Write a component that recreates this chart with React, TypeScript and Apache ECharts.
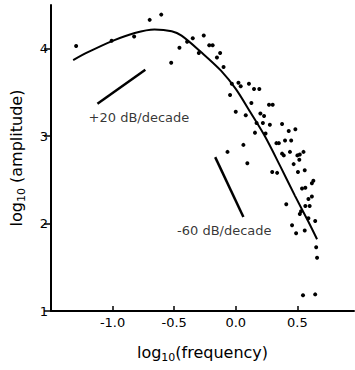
import React, { useEffect, useRef } from "react";
import * as echarts from "echarts";

const curveX = [-1.32, -1.2, -1.0, -0.82, -0.66, -0.52, -0.44, -0.28, -0.12, 0.0, 0.12, 0.24, 0.36, 0.48, 0.59, 0.66];
const curveY = [3.87, 3.96, 4.09, 4.18, 4.22, 4.2, 4.15, 3.96, 3.75, 3.54, 3.27, 2.99, 2.66, 2.32, 2.02, 1.82];

const scatterX = [-1.296, -1.008, -0.825, -0.699, -0.605, -0.457, -0.524, -0.395, -0.349, -0.26, -0.215, -0.188, -0.3, -0.153, -0.127, -0.099, -0.032, 0.022, 0.04, 0.107, -0.046, 0.148, 0.191, 0.127, 0.27, 0.3, 0.0, 0.081, 0.2, 0.23, 0.169, 0.22, 0.277, 0.376, 0.156, 0.242, 0.43, 0.484, 0.062, 0.33, 0.35, 0.4, 0.45, 0.376, 0.39, 0.44, 0.5, 0.52, 0.55, 0.47, 0.516, 0.296, 0.336, 0.505, 0.56, 0.538, 0.565, 0.618, 0.63, 0.618, 0.59, 0.41, 0.565, 0.6, 0.53, 0.52, 0.59, 0.645, 0.457, 0.49, 0.56, 0.653, 0.66, 0.546, 0.645, -0.067, 0.094];
const scatterY = [4.03, 4.09, 4.14, 4.33, 4.39, 4.01, 3.84, 4.08, 4.12, 4.15, 4.04, 4.04, 3.95, 3.9, 3.95, 3.79, 3.6, 3.61, 3.57, 3.6, 3.47, 3.54, 3.54, 3.38, 3.36, 3.36, 3.28, 3.24, 3.26, 3.23, 3.15, 3.15, 3.13, 3.14, 3.04, 3.03, 3.06, 3.08, 2.9, 2.92, 2.92, 2.95, 2.95, 2.8, 2.78, 2.82, 2.78, 2.79, 2.82, 2.68, 2.73, 2.59, 2.58, 2.59, 2.61, 2.4, 2.41, 2.46, 2.49, 2.31, 2.28, 2.22, 2.2, 2.2, 2.14, 2.11, 2.06, 2.03, 1.98, 1.89, 1.92, 1.73, 1.61, 1.18, 1.19, 2.82, 2.69];

const slopeUpX = [-1.123, -0.734];
const slopeUpY = [3.37, 3.76];
const slopeDownX = [-0.167, 0.062];
const slopeDownY = [2.76, 2.075];

const annotTexts = ["+20 dB/decade", "-60 dB/decade"];
const annotX = [-0.786, -0.093];
const annotY = [3.21, 1.92];

const xTicks = [-1.0, -0.5, 0.0, 0.5];
const yTicks = [1, 2, 3, 4];

const FONT = "DejaVu Sans";

export default function App() {
  const ref = useRef<HTMLDivElement>(null);
  useEffect(() => {
    if (!ref.current) return;
    const chart = echarts.init(ref.current, null, { renderer: "svg" });
    const zip = (a: number[], b: number[]) => a.map((v, i) => [v, b[i]]);
    chart.setOption({
      animation: false,
      backgroundColor: "#fff",
      grid: { left: 49, right: 1, top: 5, bottom: 59 },
      xAxis: {
        type: "value",
        min: -1.5,
        max: 0.96,
        name: "{a|log}{s|10}{a|(frequency)}",
        nameLocation: "middle",
        nameGap: 30,
        nameTextStyle: {
          rich: {
            a: { fontFamily: FONT, fontSize: 16, color: "#000", lineHeight: 22, verticalAlign: "middle" },
            s: { fontFamily: FONT, fontSize: 11, color: "#000", lineHeight: 22, verticalAlign: "bottom" },
          },
        },
        splitLine: { show: false },
        axisLine: { onZero: false, lineStyle: { color: "#000", width: 2 } },
        axisTick: { inside: true, length: 5, lineStyle: { color: "#000", width: 1.5 }, customValues: xTicks },
        axisLabel: {
          customValues: xTicks,
          formatter: (v: number) => v.toFixed(1),
          color: "#000",
          fontFamily: FONT,
          fontSize: 13,
          margin: 5,
        },
      },
      yAxis: {
        type: "value",
        min: 1,
        max: 4.5,
        name: "{a|log}{s|10}{a| (amplitude)}",
        nameLocation: "middle",
        nameGap: 24,
        nameRotate: 90,
        nameTextStyle: {
          rich: {
            a: { fontFamily: FONT, fontSize: 16, color: "#000", lineHeight: 22, verticalAlign: "middle" },
            s: { fontFamily: FONT, fontSize: 11, color: "#000", lineHeight: 22, verticalAlign: "bottom" },
          },
        },
        splitLine: { show: false },
        axisLine: { show: true, onZero: false, lineStyle: { color: "#000", width: 2 } },
        axisTick: { show: true, length: 7, lineStyle: { color: "#000", width: 1.5 }, customValues: yTicks },
        axisLabel: {
          customValues: yTicks,
          color: "#000",
          fontFamily: FONT,
          fontSize: 13,
          margin: 3,
        },
      },
      series: [
        {
          type: "line",
          data: zip(curveX, curveY),
          smooth: 0.3,
          showSymbol: false,
          lineStyle: { color: "#000", width: 2 },
          z: 3,
        },
        {
          type: "scatter",
          data: zip(scatterX, scatterY),
          symbolSize: 4,
          itemStyle: { color: "#000", opacity: 1 },
          z: 4,
        },
        {
          type: "line",
          data: zip(slopeUpX, slopeUpY),
          showSymbol: false,
          lineStyle: { color: "#000", width: 2.5 },
        },
        {
          type: "line",
          data: zip(slopeDownX, slopeDownY),
          showSymbol: false,
          lineStyle: { color: "#000", width: 2.5 },
        },
        {
          type: "scatter",
          data: annotTexts.map((t, i) => ({ value: [annotX[i], annotY[i]], name: t })),
          symbolSize: 0,
          label: {
            show: true,
            position: "inside",
            formatter: (p: any) => p.name,
            color: "#000",
            fontFamily: FONT,
            fontSize: 13,
          },
        },
      ],
    });
    return () => chart.dispose();
  }, []);
  return (
    <div
      ref={ref}
      style={{ position: "fixed", left: 0, top: 0, width: 355, height: 370 }}
    />
  );
}
